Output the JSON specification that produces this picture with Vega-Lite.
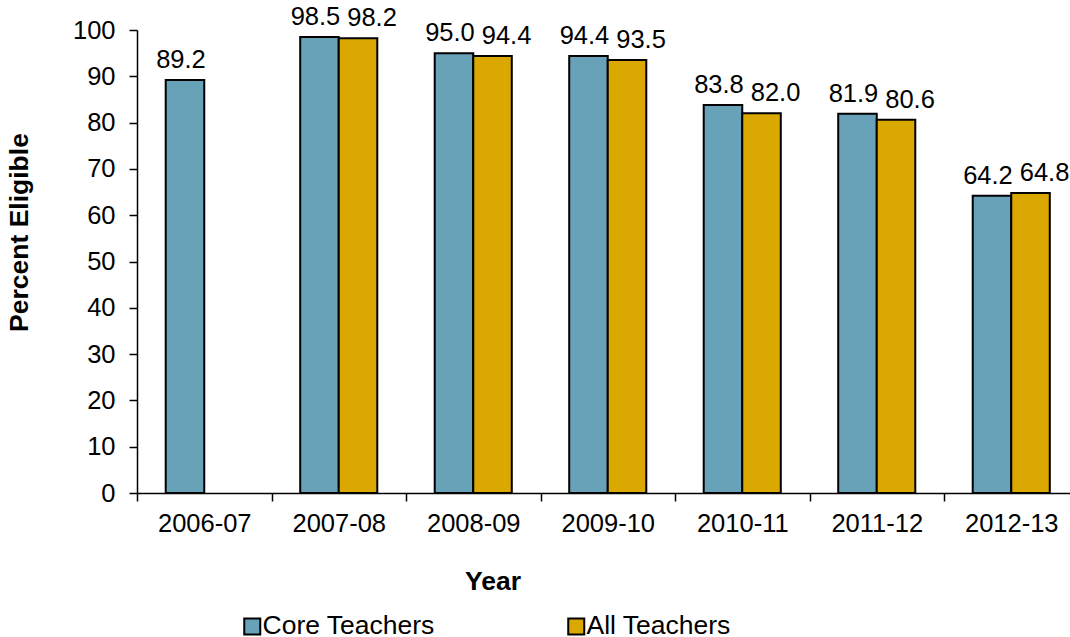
{
  "$schema": "https://vega.github.io/schema/vega-lite/v6.json",
  "width": 933,
  "height": 463,
  "autosize": {"type": "none"},
  "padding": {"left": 137, "top": 30, "right": 0, "bottom": 144},
  "background": "white",
  "config": {
    "view": {"stroke": null},
    "font": "Liberation Sans",
    "axis": {
      "domainColor": "black",
      "domainWidth": 1.5,
      "tickColor": "black",
      "tickWidth": 1.5,
      "tickSize": 8,
      "labelColor": "black",
      "labelFont": "Liberation Sans",
      "labelFontSize": 25.5,
      "titleFont": "Liberation Sans",
      "titleFontSize": 26.5,
      "titleFontWeight": "bold",
      "titleColor": "black",
      "grid": false
    },
    "legend": {
      "labelFont": "Liberation Sans",
      "labelFontSize": 26.5,
      "labelColor": "black"
    }
  },
  "data": {
    "values": [
      {"Year": "2006-07", "Series": "Core Teachers", "Value": 89.2},
      {"Year": "2007-08", "Series": "Core Teachers", "Value": 98.5},
      {"Year": "2007-08", "Series": "All Teachers", "Value": 98.2},
      {"Year": "2008-09", "Series": "Core Teachers", "Value": 95.0},
      {"Year": "2008-09", "Series": "All Teachers", "Value": 94.4},
      {"Year": "2009-10", "Series": "Core Teachers", "Value": 94.4},
      {"Year": "2009-10", "Series": "All Teachers", "Value": 93.5},
      {"Year": "2010-11", "Series": "Core Teachers", "Value": 83.8},
      {"Year": "2010-11", "Series": "All Teachers", "Value": 82.0},
      {"Year": "2011-12", "Series": "Core Teachers", "Value": 81.9},
      {"Year": "2011-12", "Series": "All Teachers", "Value": 80.6},
      {"Year": "2012-13", "Series": "Core Teachers", "Value": 64.2},
      {"Year": "2012-13", "Series": "All Teachers", "Value": 64.8}
    ]
  },
  "encoding": {
    "x": {
      "field": "Year",
      "type": "nominal",
      "scale": {"range": [0, 941.5], "paddingInner": 0, "paddingOuter": 0},
      "axis": {
        "title": "Year",
        "labelAngle": 0,
        "tickBand": "extent",
        "labelPadding": 10,
        "titleX": 355.5,
        "titleY": 96,
        "titleBaseline": "alphabetic",
        "titleAnchor": "middle",
        "titleAlign": "center"
      }
    },
    "xOffset": {
      "field": "Series",
      "type": "nominal",
      "scale": {"domain": ["Core Teachers", "All Teachers"], "paddingInner": 0, "paddingOuter": 0.745}
    },
    "y": {
      "field": "Value",
      "type": "quantitative",
      "scale": {"domain": [0, 100], "nice": false, "zero": true},
      "axis": {
        "title": "Percent Eligible",
        "values": [0, 10, 20, 30, 40, 50, 60, 70, 80, 90, 100],
        "labelPadding": 14,
        "titleX": -104,
        "titleY": 202,
        "titleAngle": -90,
        "titleBaseline": "bottom",
        "titleAlign": "center"
      }
    }
  },
  "layer": [
    {
      "mark": {"type": "bar", "stroke": "black", "strokeWidth": 2},
      "encoding": {
        "color": {
          "field": "Series",
          "type": "nominal",
          "scale": {"domain": ["Core Teachers", "All Teachers"], "range": ["#68A2B9", "#DAA800"]},
          "legend": {
            "title": null,
            "orient": "none",
            "direction": "horizontal",
            "legendX": 102,
            "legendY": 583,
            "padding": 0,
            "symbolType": "square",
            "symbolSize": 256,
            "symbolStrokeColor": "black",
            "symbolStrokeWidth": 2,
            "symbolOpacity": 1,
            "labelOffset": -3,
            "columnPadding": 128,
            "labelLimit": 400
          }
        }
      }
    },
    {
      "transform": [{"filter": "datum.Series === 'Core Teachers'"}],
      "mark": {"type": "text", "fontSize": 25.5, "font": "Liberation Sans", "color": "black", "baseline": "alphabetic", "dy": -12, "dx": -4},
      "encoding": {
        "text": {"field": "Value", "type": "quantitative", "format": ".1f"}
      }
    },
    {
      "transform": [{"filter": "datum.Series === 'All Teachers'"}],
      "mark": {"type": "text", "fontSize": 25.5, "font": "Liberation Sans", "color": "black", "baseline": "alphabetic", "dy": -12, "dx": 14},
      "encoding": {
        "text": {"field": "Value", "type": "quantitative", "format": ".1f"}
      }
    }
  ]
}
